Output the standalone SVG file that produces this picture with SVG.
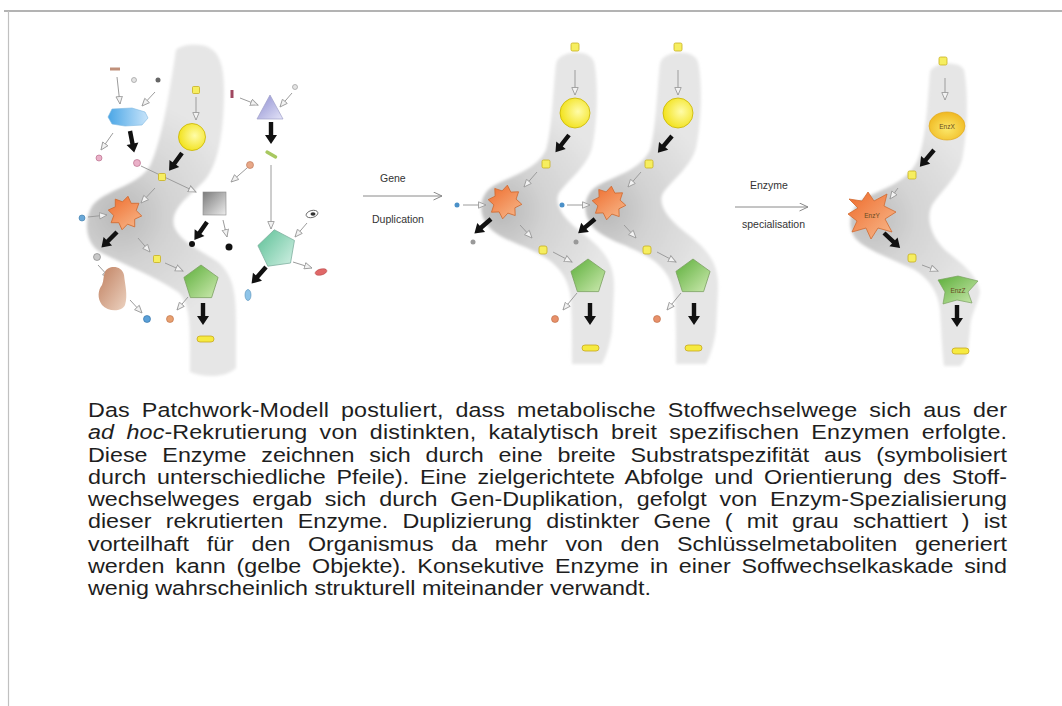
<svg xmlns="http://www.w3.org/2000/svg" width="1062" height="706" viewBox="0 0 1062 706">
  <defs>
    <style>
      .lbl{font-family:"Liberation Sans",Arial,sans-serif;font-size:10.5px;fill:#333}
      .para{font-family:"Liberation Sans",Arial,sans-serif;font-size:19.5px;fill:#1e1e1e}
      .enz{font-family:"Liberation Sans",Arial,sans-serif;font-size:6.5px;fill:#6a4a20;text-anchor:middle}
      .ga{stroke:#9c9c9c;stroke-width:1;fill:none;marker-end:url(#gh)}
      .la{stroke:#8a8a8a;stroke-width:1;fill:none;marker-end:url(#lh)}
      .ys{fill:#f6ee60;stroke:#c8b020;stroke-width:0.8}
      .pill{fill:#f6ea40;stroke:#c8a820;stroke-width:0.8}
      .circ{fill:url(#gYellow);stroke:#c8b400;stroke-width:0.8}
      .star{fill:url(#gStar);stroke:#d06a30;stroke-width:0.8}
      .pent{fill:url(#gPent);stroke:#7aa060;stroke-width:0.8}
      .band{filter:url(#soft)}
    </style>
    <filter id="soft" x="-10%" y="-10%" width="120%" height="120%">
      <feGaussianBlur stdDeviation="1.8"/>
    </filter>
    <radialGradient id="bandL" gradientUnits="userSpaceOnUse" cx="120" cy="215" r="120">
      <stop offset="0" stop-color="#b8b8b8"/>
      <stop offset="0.4" stop-color="#d2d2d2"/>
      <stop offset="1" stop-color="#e6e6e6"/>
    </radialGradient>
    <radialGradient id="bandM" gradientUnits="userSpaceOnUse" cx="605" cy="210" r="110">
      <stop offset="0" stop-color="#b8b8b8"/>
      <stop offset="0.4" stop-color="#d2d2d2"/>
      <stop offset="1" stop-color="#e6e6e6"/>
    </radialGradient>
    <radialGradient id="bandR" gradientUnits="userSpaceOnUse" cx="872" cy="218" r="110">
      <stop offset="0" stop-color="#bcbcbc"/>
      <stop offset="0.4" stop-color="#d4d4d4"/>
      <stop offset="1" stop-color="#e6e6e6"/>
    </radialGradient>
    <radialGradient id="gYellow" cx="0.6" cy="0.45" r="0.6">
      <stop offset="0" stop-color="#fffca8"/>
      <stop offset="1" stop-color="#f2e21c"/>
    </radialGradient>
    <radialGradient id="gEnzX" cx="0.5" cy="0.6" r="0.6">
      <stop offset="0" stop-color="#fbe86a"/>
      <stop offset="1" stop-color="#f0b820"/>
    </radialGradient>
    <linearGradient id="gStar" x1="0" y1="0" x2="1" y2="1">
      <stop offset="0" stop-color="#ee6a2a"/>
      <stop offset="1" stop-color="#f8bc90"/>
    </linearGradient>
    <linearGradient id="gPent" x1="0" y1="0" x2="1" y2="1">
      <stop offset="0" stop-color="#5cae3a"/>
      <stop offset="1" stop-color="#cdeab0"/>
    </linearGradient>
    <linearGradient id="gTurq" x1="0" y1="0" x2="1" y2="1">
      <stop offset="0" stop-color="#5cc096"/>
      <stop offset="1" stop-color="#d2f0e4"/>
    </linearGradient>
    <linearGradient id="gBlue" x1="0" y1="0" x2="1" y2="0">
      <stop offset="0" stop-color="#4aa6e6"/>
      <stop offset="1" stop-color="#c8e4fa"/>
    </linearGradient>
    <linearGradient id="gTri" x1="0" y1="0" x2="1" y2="1">
      <stop offset="0" stop-color="#8c8cd0"/>
      <stop offset="1" stop-color="#e4e4f8"/>
    </linearGradient>
    <linearGradient id="gSq" x1="0" y1="0" x2="1" y2="1">
      <stop offset="0" stop-color="#7c7c7c"/>
      <stop offset="1" stop-color="#ececec"/>
    </linearGradient>
    <linearGradient id="gBlob" x1="0" y1="0" x2="1" y2="1">
      <stop offset="0" stop-color="#c08060"/>
      <stop offset="1" stop-color="#ecd2c0"/>
    </linearGradient>
    <marker id="gh" markerUnits="userSpaceOnUse" markerWidth="9" markerHeight="8" refX="8" refY="4" orient="auto" viewBox="0 0 9 8">
      <path d="M0.5,0.8 L8,4 L0.5,7.2 Z" fill="#f2f2f2" stroke="#9c9c9c" stroke-width="0.9"/>
    </marker>
    <marker id="lh" markerUnits="userSpaceOnUse" markerWidth="10" markerHeight="9" refX="9" refY="4.5" orient="auto" viewBox="0 0 10 9">
      <path d="M0.5,0.5 L9,4.5 L0.5,8.5" fill="none" stroke="#8a8a8a" stroke-width="1"/>
    </marker>
    <path id="barrow" d="M0,-2.2 L13,-2.2 L13,-6 L22,0 L13,6 L13,2.2 L0,2.2 Z" fill="#111"/>
    <path id="star8" d="M0,-17 L4.4,-10.6 L12,-12 L10.6,-4.4 L17,0 L10.6,4.4 L12,12 L4.4,10.6 L0,17 L-4.4,10.6 L-12,12 L-10.6,4.4 L-17,0 L-10.6,-4.4 L-12,-12 L-4.4,-10.6 Z"/>
    <path id="pent5" d="M0,-18 L17.1,-5.6 L10.6,14.6 L-10.6,14.6 L-17.1,-5.6 Z"/>
  </defs>

  <rect width="1062" height="706" fill="#ffffff"/>
  <!-- page frame -->
  <path d="M4,11 H1062" stroke="#9a9a9a" stroke-width="1.4" fill="none"/>
  <path d="M8.5,11 V706" stroke="#c0c0c0" stroke-width="1.2" fill="none"/>

  <!-- shaded pathway bands -->
  <g id="bands">
    <path class="band" fill="url(#bandL)" d="M176,50 C170,90 162,140 150,166 C138,186 104,190 92,206 C83,222 86,244 100,252 C122,264 155,276 178,292 C190,302 190,325 190,350 L190,372 C205,378 225,378 236,368 L236,320 C236,290 232,274 218,262 C200,250 180,242 174,226 C170,208 190,196 205,180 C220,162 224,125 224,90 C224,62 218,47 200,45 C188,44 180,46 176,50 Z"/>
    <path class="band" fill="url(#bandM)" transform="translate(-104,0)" d="M660,64 C662,50 694,48 698,62 C703,85 701,125 696,148 C690,168 672,180 663,193 C657,205 668,220 690,236 C710,252 719,265 718,290 L716,330 C714,345 710,356 706,364 L676,364 C676,345 676,320 675,300 C673,280 665,268 650,258 C630,245 603,240 592,226 C581,212 584,194 597,186 C617,175 640,170 650,150 C656,130 657,90 660,64 Z"/>
    <path class="band" fill="url(#bandM)" d="M660,64 C662,50 694,48 698,62 C703,85 701,125 696,148 C690,168 672,180 663,193 C657,205 668,220 690,236 C710,252 719,265 718,290 L716,330 C714,345 710,356 706,364 L676,364 C676,345 676,320 675,300 C673,280 665,268 650,258 C630,245 603,240 592,226 C581,212 584,194 597,186 C617,175 640,170 650,150 C656,130 657,90 660,64 Z"/>
    <path class="band" fill="url(#bandR)" d="M930,72 C932,62 960,60 964,70 C969,95 967,135 962,160 C956,180 940,192 932,205 C926,218 930,235 945,250 C960,262 978,275 980,292 C978,305 970,315 970,330 L968,350 C966,358 963,364 960,366 L944,366 C942,350 941,325 940,310 C938,292 930,280 915,270 C895,260 865,250 855,238 C846,226 850,206 865,198 C885,188 905,182 915,165 C925,150 927,110 930,72 Z"/>
  </g>

  <!-- connectors -->
  <g id="connectors">
    <!-- first pathway, broad substrate use -->
    <line class="ga" x1="117" y1="77" x2="120" y2="104"/>
    <line class="ga" x1="155" y1="92" x2="142" y2="106"/>
    <line class="ga" x1="196" y1="97" x2="196" y2="120"/>
    <line class="ga" x1="113" y1="133" x2="101" y2="150"/>
    <line class="ga" x1="141" y1="166" x2="196" y2="192"/>
    <line class="ga" x1="155" y1="188" x2="141" y2="203"/>
    <line class="ga" x1="240" y1="98" x2="258" y2="105"/>
    <line class="ga" x1="292" y1="93" x2="280" y2="107"/>
    <line class="ga" x1="247" y1="168" x2="231" y2="182"/>
    <line class="ga" x1="223" y1="220" x2="227" y2="237"/>
    <line class="ga" x1="271" y1="165" x2="271" y2="229"/>
    <line class="ga" x1="307" y1="223" x2="295" y2="237"/>
    <line class="ga" x1="293" y1="262" x2="312" y2="268"/>
    <line class="ga" x1="88" y1="217" x2="107" y2="215"/>
    <line class="ga" x1="138" y1="238" x2="150" y2="252"/>
    <line class="ga" x1="165" y1="263" x2="183" y2="271"/>
    <line class="ga" x1="98" y1="265" x2="110" y2="278"/>
    <line class="ga" x1="130" y1="300" x2="142" y2="313"/>
    <line class="ga" x1="188" y1="297" x2="177" y2="310"/>
    <use href="#barrow" transform="translate(130,131) rotate(79)"/>
    <use href="#barrow" transform="translate(182,153) rotate(126)"/>
    <use href="#barrow" transform="translate(271,122) rotate(90)"/>
    <use href="#barrow" transform="translate(207,222) rotate(125)"/>
    <use href="#barrow" transform="translate(117,232) rotate(135)"/>
    <use href="#barrow" transform="translate(266,267) rotate(131)"/>
    <use href="#barrow" transform="translate(203,303) rotate(90)"/>

    <!-- duplicated pathways -->
    <line class="ga" x1="575" y1="70" x2="575" y2="95"/>
    <line class="ga" x1="537" y1="172" x2="524" y2="187"/>
    <line class="ga" x1="463" y1="205" x2="486" y2="205"/>
    <line class="ga" x1="520" y1="225" x2="532" y2="238"/>
    <line class="ga" x1="553" y1="252" x2="572" y2="262"/>
    <line class="ga" x1="577" y1="293" x2="563" y2="310"/>
    <use href="#barrow" transform="translate(569,135) rotate(128)"/>
    <use href="#barrow" transform="translate(491,219) rotate(139)"/>
    <use href="#barrow" transform="translate(590,303) rotate(90)"/>

    <line class="ga" x1="678" y1="70" x2="678" y2="95"/>
    <line class="ga" x1="641" y1="172" x2="628" y2="187"/>
    <line class="ga" x1="567" y1="205" x2="590" y2="205"/>
    <line class="ga" x1="624" y1="225" x2="636" y2="238"/>
    <line class="ga" x1="657" y1="252" x2="676" y2="262"/>
    <line class="ga" x1="681" y1="293" x2="667" y2="310"/>
    <use href="#barrow" transform="translate(672,136) rotate(130)"/>
    <use href="#barrow" transform="translate(595,219) rotate(140)"/>
    <use href="#barrow" transform="translate(694,303) rotate(90)"/>

    <!-- specialised pathway -->
    <line class="ga" x1="945" y1="78" x2="945" y2="100"/>
    <line class="ga" x1="898" y1="188" x2="890" y2="199"/>
    <line class="ga" x1="922" y1="265" x2="938" y2="271"/>
    <use href="#barrow" transform="translate(934,150) rotate(130)"/>
    <use href="#barrow" transform="translate(884,233) rotate(43)"/>
    <use href="#barrow" transform="translate(957,305) rotate(90)"/>

    <!-- step arrows -->
    <line class="la" x1="363" y1="196" x2="442" y2="196"/>
    <line class="la" x1="735" y1="207" x2="808" y2="207"/>
  </g>

  <!-- first pathway: broadly specific enzymes -->
  <g id="pathway-patchwork">
    <rect x="110" y="67.5" width="10" height="3" fill="#c0907a"/>
    <circle cx="134" cy="80" r="2.5" fill="#e4e4e4" stroke="#999" stroke-width="0.7"/>
    <circle cx="158" cy="80" r="2.5" fill="#666"/>
    <rect class="ys" x="192.5" y="86.5" width="7" height="7" rx="1"/>
    <polygon points="112,109 132,108 145,112 148,118 142,125 125,126 112,124 108,117" fill="url(#gBlue)" stroke="#80b8e0" stroke-width="0.6"/>
    <circle cx="99" cy="158" r="3" fill="#eab0c8" stroke="#b06080" stroke-width="0.6"/>
    <circle cx="137" cy="163" r="3.5" fill="#eab0c8" stroke="#b06080" stroke-width="0.6"/>
    <circle class="circ" cx="192" cy="137" r="13.5"/>
    <rect class="ys" x="158.5" y="173.5" width="7" height="7" rx="1"/>
    <rect x="230.5" y="90" width="3" height="8" fill="#a04860"/>
    <circle cx="295" cy="87" r="2.5" fill="#e4e4e4" stroke="#999" stroke-width="0.7"/>
    <polygon points="270,95 257,119 283,119" fill="url(#gTri)" stroke="#a0a0c8" stroke-width="0.7"/>
    <rect x="265" y="152.5" width="13" height="3.5" rx="1.5" fill="#a8c860" transform="rotate(30 271 154)"/>
    <circle cx="250" cy="165" r="3.5" fill="#e8a888" stroke="#b87050" stroke-width="0.6"/>
    <rect x="203" y="192" width="23" height="23" fill="url(#gSq)" stroke="#8a8a8a" stroke-width="0.6"/>
    <circle cx="192" cy="244" r="3" fill="#111"/>
    <circle cx="229" cy="247" r="3.5" fill="#111"/>
    <ellipse cx="312" cy="214" rx="6" ry="3.5" fill="#fff" stroke="#555" stroke-width="0.8" transform="rotate(-15 312 214)"/>
    <ellipse cx="313" cy="214" rx="2.5" ry="1.8" fill="#333"/>
    <use href="#pent5" transform="translate(277,249) rotate(-8) scale(1.08)" fill="url(#gTurq)" stroke="#80b0a0" stroke-width="0.7"/>
    <ellipse cx="321" cy="272" rx="6" ry="3" fill="#e06868" stroke="#b04040" stroke-width="0.5" transform="rotate(-15 321 272)"/>
    <ellipse cx="248" cy="295" rx="3" ry="5.5" fill="#8ec4e8" stroke="#5890b8" stroke-width="0.6"/>
    <use href="#star8" class="star" transform="translate(125,213) rotate(10)"/>
    <circle cx="82" cy="218" r="3" fill="#6aa8d8" stroke="#3a78a8" stroke-width="0.6"/>
    <circle cx="97" cy="257" r="3.5" fill="#c8c8c8" stroke="#777" stroke-width="0.6"/>
    <rect class="ys" x="153.5" y="255.5" width="7" height="7" rx="1"/>
    <use href="#pent5" class="pent" transform="translate(201,283)"/>
    <path d="M105,272 C108,265 122,265 124,275 C125,285 128,295 125,305 C122,312 108,312 102,305 C97,298 98,290 102,285 C104,280 103,276 105,272 Z" fill="url(#gBlob)"/>
    <circle cx="147" cy="319" r="3.5" fill="#5aa0d8" stroke="#2a6aa0" stroke-width="0.6"/>
    <circle cx="170" cy="319" r="3.5" fill="#e8a070" stroke="#b86a40" stroke-width="0.6"/>
    <rect class="pill" x="197" y="336" width="17" height="6" rx="3"/>
  </g>

  <!-- duplicated pathway, first copy -->
  <g id="pathway-copy-1">
    <rect class="ys" x="571" y="43" width="8" height="8" rx="1.5"/>
    <circle class="circ" cx="575" cy="113" r="15"/>
    <rect class="ys" x="542" y="160" width="8" height="8" rx="1.5"/>
    <use href="#star8" class="star" transform="translate(505,202) rotate(8)"/>
    <circle cx="457" cy="205" r="2.5" fill="#4a90c8"/>
    <circle cx="473" cy="242" r="2.5" fill="#999"/>
    <rect class="ys" x="539" y="246" width="8" height="8" rx="2"/>
    <use href="#pent5" class="pent" transform="translate(588,277)"/>
    <circle cx="555" cy="319" r="3.5" fill="#e8906a" stroke="#b86a40" stroke-width="0.6"/>
    <rect class="pill" x="582" y="345" width="17" height="6" rx="3"/>
  </g>

  <!-- duplicated pathway, second copy -->
  <g id="pathway-copy-2">
    <rect class="ys" x="674" y="43" width="8" height="8" rx="1.5"/>
    <circle class="circ" cx="678" cy="113" r="15"/>
    <rect class="ys" x="645" y="160" width="8" height="8" rx="1.5"/>
    <use href="#star8" class="star" transform="translate(609,203) rotate(8)"/>
    <circle cx="562" cy="205" r="2.5" fill="#4a90c8"/>
    <circle cx="576" cy="242" r="2.5" fill="#999"/>
    <rect class="ys" x="643" y="246" width="8" height="8" rx="2"/>
    <use href="#pent5" class="pent" transform="translate(693,277)"/>
    <circle cx="657" cy="319" r="3.5" fill="#e8906a" stroke="#b86a40" stroke-width="0.6"/>
    <rect class="pill" x="685" y="345" width="17" height="6" rx="3"/>
  </g>

  <!-- specialised pathway -->
  <g id="pathway-specialised">
    <rect class="ys" x="939" y="57" width="8" height="8" rx="1.5"/>
    <g id="enzX">
      <ellipse cx="947" cy="126" rx="18" ry="14" fill="url(#gEnzX)" stroke="#e0a820" stroke-width="0.7"/>
      <text class="enz" x="947" y="128.5">EnzX</text>
    </g>
    <rect class="ys" x="908" y="171" width="8" height="8" rx="1.5"/>
    <g id="enzY">
      <path class="star" d="M849,199 L862,201 L868,192 L874,201 L887,194 L884,206 L896,212 L885,219 L892,232 L878,228 L871,239 L866,228 L852,232 L857,221 L848,214 L858,208 Z"/>
      <text class="enz" x="872" y="218">EnzY</text>
    </g>
    <rect class="ys" x="908" y="254" width="8" height="8" rx="2"/>
    <g id="enzZ">
      <path d="M938,280 L958,276 L978,281 L968,292 L972,303 L957,300 L943,304 L945,292 Z" fill="url(#gPent)" stroke="#7aa060" stroke-width="0.7"/>
      <text class="enz" x="958" y="293">EnzZ</text>
    </g>
    <rect class="pill" x="952" y="348" width="17" height="6" rx="3"/>
  </g>

  <!-- step labels -->
  <g id="label-duplication">
    <text class="lbl" x="380" y="182">Gene</text>
    <text class="lbl" x="372" y="223">Duplication</text>
  </g>
  <g id="label-specialisation">
    <text class="lbl" x="750" y="189">Enzyme</text>
    <text class="lbl" x="742" y="228">specialisation</text>
  </g>

  <!-- explanatory paragraph, justified -->
  <g id="caption" transform="translate(88,0) scale(1.195,1)">
    <text class="para" x="0" y="417" word-spacing="4.4" textLength="769" lengthAdjust="spacing">Das Patchwork-Modell postuliert, dass metabolische Stoffwechselwege sich aus der</text>
    <text class="para" x="0" y="439.3" word-spacing="4.7" textLength="769" lengthAdjust="spacing"><tspan font-style="italic">ad hoc</tspan>-Rekrutierung von distinkten, katalytisch breit spezifischen Enzymen erfolgte.</text>
    <text class="para" x="0" y="461.6" word-spacing="7" textLength="769" lengthAdjust="spacing">Diese Enzyme zeichnen sich durch eine breite Substratspezifität aus (symbolisiert</text>
    <text class="para" x="0" y="483.9" word-spacing="3.6" textLength="769" lengthAdjust="spacing">durch unterschiedliche Pfeile). Eine zielgerichtete Abfolge und Orientierung des Stoff-</text>
    <text class="para" x="0" y="506.2" word-spacing="5.4" textLength="769" lengthAdjust="spacing">wechselweges ergab sich durch Gen-Duplikation, gefolgt von Enzym-Spezialisierung</text>
    <text class="para" x="0" y="528.5" word-spacing="6.5" textLength="769" lengthAdjust="spacing">dieser rekrutierten Enzyme. Duplizierung distinkter Gene ( mit grau schattiert ) ist</text>
    <text class="para" x="0" y="550.8" word-spacing="9.3" textLength="769" lengthAdjust="spacing">vorteilhaft für den Organismus da mehr von den Schlüsselmetaboliten generiert</text>
    <text class="para" x="0" y="573.1" word-spacing="3.6" textLength="769" lengthAdjust="spacing">werden kann (gelbe Objekte). Konsekutive Enzyme in einer Soffwechselkaskade sind</text>
    <text class="para" x="0" y="595.4">wenig wahrscheinlich strukturell miteinander verwandt.</text>
  </g>
</svg>
